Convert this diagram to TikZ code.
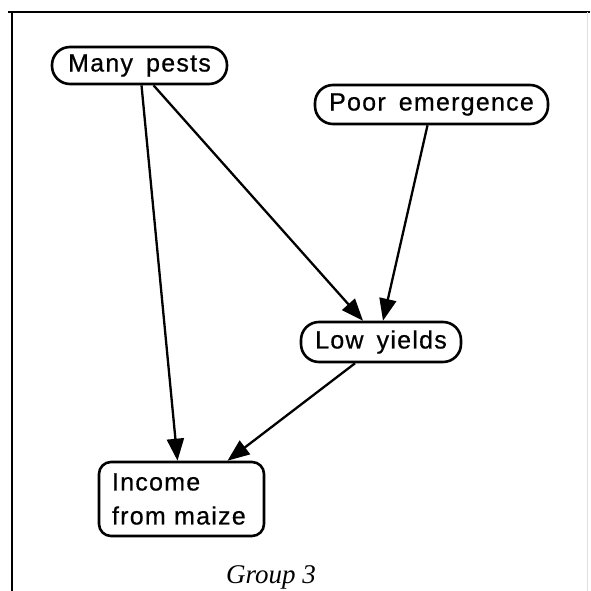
\documentclass[tikz,border=0pt]{standalone}
\usepackage{fontspec}
\usetikzlibrary{arrows.meta,calc}
\newfontfamily\boxfont[LetterSpace=5,WordSpace=1.6,FakeBold=0.6]{Liberation Sans}
\newfontfamily\capfont{Liberation Serif}
\begin{document}
\begin{tikzpicture}[x=1pt,y=-1pt,
  pill/.style={draw, line width=2.6pt, rounded corners=18pt, inner sep=0pt,
    font=\boxfont\fontsize{25}{29}\selectfont},
  boxnode/.style={draw, line width=2.6pt, rounded corners=12pt, inner sep=0pt,
    font=\boxfont\fontsize{25}{34}\selectfont},
  link/.style={line width=2.3pt, -{Triangle[length=22pt,width=17pt]}}]
  \useasboundingbox (0,0) rectangle (590,591);
  % frame
  \draw[line width=2.8pt] (8,12) -- (590,12);
  \draw[line width=2.8pt] (12,11) -- (12,591);
  \draw[line width=0.6pt, black!12] (587,12) -- (587,591);
  % nodes
  \node[pill, minimum width=175pt, minimum height=37pt] (mp) at (139.5,65.5) {Many pests};
  \node[pill, minimum width=233pt, minimum height=39pt] (pe) at (431.5,104.5) {Poor emergence};
  \node[pill, minimum width=160pt, minimum height=40pt] (ly) at (381,342) {Low yields};
  \node[boxnode, minimum width=165pt, minimum height=74pt, text width=139pt, align=left]
    (inc) at (181.5,499) {Income\\from maize};
  % caption
  \node[font=\capfont\itshape\fontsize{27}{32}\selectfont] (cap) at (271,577) {Group 3};
  % connectors
  \draw[link] ($(mp.south)+(2,0)$) -- ($(inc.north)+(-4,0)$);
  \draw[link] ($(mp.south)+(14,0)$) -- ($(ly.north)+(-18,0)$);
  \draw[link] ($(pe.south)+(-4,0)$) -- ($(ly.north)+(2,0)$);
  \draw[link] ($(ly.south)+(-26,0)$) -- ($(inc.north)+(46,0)$);
\end{tikzpicture}
\end{document}
